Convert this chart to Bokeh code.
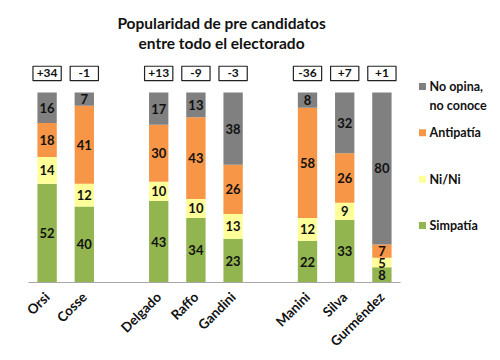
import numpy as np
from bokeh.plotting import figure
from bokeh.models import ColumnDataSource, Range1d, FixedTicker
from bokeh.core.properties import value
from bokeh.embed import file_html
from bokeh.resources import INLINE

# ---- data ----
groups = [["Orsi", "Cosse"], ["Delgado", "Raffo", "Gandini"], ["Manini", "Silva", "Gurméndez"]]
candidates = [c for g in groups for c in g]
simpatia = [52, 40, 43, 34, 23, 22, 33, 8]
ni_ni = [14, 12, 10, 10, 13, 12, 9, 5]
antipatia = [18, 41, 30, 43, 26, 58, 26, 7]
no_opina = [16, 7, 17, 13, 38, 8, 32, 80]
net_labels = ["+34", "-1", "+13", "-9", "-3", "-36", "+7", "+1"]
series_names = ["Simpatía", "Ni/Ni", "Antipatía", "No opina,\nno conoce"]
series_colors = ["#92B550", "#FFFF99", "#F79646", "#808080"]
title_lines = ["Popularidad de pre candidatos", "entre todo el electorado"]

FONT = "Lato"

# ---- positions (one empty slot between groups) ----
pos = []
i = 0
for g in groups:
    for _ in g:
        pos.append(i)
        i += 1
    i += 1

series = [simpatia, ni_ni, antipatia, no_opina]

xs, bottoms, tops, cols, labs, mids = [], [], [], [], [], []
for j, x in enumerate(pos):
    b = 0
    for k, s in enumerate(series):
        v = s[j]
        xs.append(x)
        bottoms.append(b)
        tops.append(b + v)
        mids.append(b + v / 2)
        cols.append(series_colors[k])
        labs.append(str(v))
        b += v

src = ColumnDataSource(dict(x=xs, bottom=bottoms, top=tops, color=cols, label=labs, mid=mids))

p = figure(width=498, height=358, x_range=Range1d(-0.5, 12.134), y_range=Range1d(0, 144.2),
           toolbar_location=None, output_backend="svg", y_axis_location=None,
           min_border_left=28, min_border_right=0, min_border_top=8, min_border_bottom=76)
p.outline_line_color = None
p.xgrid.visible = False
p.ygrid.visible = False
p.background_fill_color = "white"

p.vbar(x="x", bottom="bottom", top="top", width=0.52, fill_color="color", line_color=None, source=src)
p.text(x="x", y="mid", text="label", source=src, text_align="center", text_baseline="middle",
       text_font=value(FONT), text_font_style="bold", text_font_size="13px", text_color="#111111")

# net boxes
box_src = ColumnDataSource(dict(x=pos, y=[110] * len(pos), t=net_labels))
p.rect(x="x", y="y", width=0.76, height=7.6, source=box_src, fill_color="white",
       line_color="#222222", line_width=1.2)
p.text(x="x", y="y", text="t", source=box_src, text_align="center", text_baseline="middle",
       text_font=value(FONT), text_font_style="bold", text_font_size="12px", text_color="#111111")

# legend (top to bottom: reversed series order)
leg_names = series_names[::-1]
leg_colors = series_colors[::-1]
leg_y = [103.2 - k * 24.4 for k in range(len(leg_names))]
leg_src = ColumnDataSource(dict(x=[10.09] * 4, tx=[10.28] * 4, y=leg_y,
                                ty=[y + 3.9 for y in leg_y], name=leg_names, color=leg_colors))
p.scatter(x="x", y="y", marker="square", size=7, fill_color="color", line_color=None, source=leg_src)
p.text(x="tx", y="ty", text="name", source=leg_src, text_align="left", text_baseline="top",
       text_font=value(FONT), text_font_style="bold", text_font_size="12.5px", text_color="#111111",
       text_line_height=1.3)

# title
p.text(x=[4.69, 4.69], y=[136.8, 126.3], text=title_lines, text_align="center", text_baseline="middle",
       text_font=value(FONT), text_font_style="bold", text_font_size="15.5px", text_color="#111111")

# axis
ax = p.xaxis[0]
ax.ticker = FixedTicker(ticks=pos)
ax.major_label_overrides = {x: c for x, c in zip(pos, candidates)}
ax.bounds = (-0.5, 9.5)
ax.axis_line_color = "#A6A6A6"
ax.axis_line_width = 1
ax.major_tick_line_color = None
ax.minor_tick_line_color = None
ax.major_tick_out = 0
ax.minor_tick_out = 0
ax.major_label_standoff = 12
ax.major_label_orientation = np.pi / 4
ax.major_label_text_font = FONT
ax.major_label_text_font_style = "bold"
ax.major_label_text_font_size = "13.5px"
ax.major_label_text_color = "#111111"

open("out.html", "w").write(file_html(p, INLINE))
